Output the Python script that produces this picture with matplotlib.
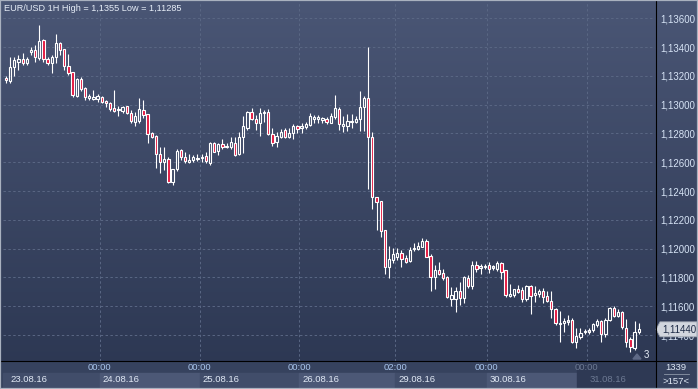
import numpy as np
import matplotlib.pyplot as plt
import matplotlib.transforms as mtransforms
from matplotlib.colors import LinearSegmentedColormap
from matplotlib.patches import Rectangle, Polygon

plt.rcParams['font.family'] = ['Liberation Sans', 'DejaVu Sans']

# hourly EUR/USD candles
opens = [1.13188, 1.13167, 1.13264, 1.13299, 1.13315, 1.13292, 1.13369, 1.13380, 1.13322, 1.13450,
         1.13318, 1.13288, 1.13329, 1.13431, 1.13387, 1.13269, 1.13227, 1.13061, 1.13179, 1.13114,
         1.13044, 1.13040, 1.13038, 1.13056, 1.13026, 1.13010, 1.12980, 1.12963, 1.12959, 1.12991,
         1.12940, 1.12880, 1.12889, 1.12963, 1.12933, 1.12801, 1.12783, 1.12658, 1.12605, 1.12625,
         1.12466, 1.12551, 1.12686, 1.12635, 1.12602, 1.12616, 1.12623, 1.12630, 1.12644, 1.12598,
         1.12737, 1.12681, 1.12727, 1.12706, 1.12704, 1.12737, 1.12658, 1.12774, 1.12836, 1.12947,
         1.12901, 1.12875, 1.12940, 1.12947, 1.12797, 1.12744, 1.12774, 1.12825, 1.12774, 1.12801,
         1.12852, 1.12841, 1.12848, 1.12859, 1.12903, 1.12903, 1.12894, 1.12903, 1.12875, 1.12917,
         1.12973, 1.12855, 1.12855, 1.12880, 1.12882, 1.12903, 1.12987, 1.13044, 1.12774, 1.12357,
         1.12329, 1.12130, 1.11875, 1.11922, 1.11940, 1.11968, 1.11933, 1.11915, 1.11996, 1.12000,
         1.12014, 1.12054, 1.11952, 1.11806, 1.11852, 1.11829, 1.11806, 1.11649, 1.11649, 1.11706,
         1.11656, 1.11799, 1.11741, 1.11887, 1.11869, 1.11873, 1.11887, 1.11869, 1.11862, 1.11901,
         1.11850, 1.11674, 1.11679, 1.11718, 1.11710, 1.11650, 1.11741, 1.11678, 1.11685, 1.11708,
         1.11674, 1.11637, 1.11581, 1.11475, 1.11482, 1.11494, 1.11505, 1.11350, 1.11389, 1.11422,
         1.11424, 1.11435, 1.11470, 1.11498, 1.11405, 1.11505, 1.11590, 1.11535, 1.11563, 1.11447,
         1.11371, 1.11308, 1.11424]
highs = [1.13200, 1.13334, 1.13329, 1.13345, 1.13362, 1.13329, 1.13403, 1.13415, 1.13550, 1.13454,
         1.13334, 1.13345, 1.13491, 1.13438, 1.13387, 1.13352, 1.13230, 1.13183, 1.13190, 1.13121,
         1.13072, 1.13102, 1.13072, 1.13058, 1.13033, 1.13017, 1.13102, 1.12991, 1.12991, 1.12991,
         1.12963, 1.12952, 1.13044, 1.13033, 1.12933, 1.12813, 1.12790, 1.12709, 1.12709, 1.12639,
         1.12551, 1.12690, 1.12690, 1.12674, 1.12656, 1.12651, 1.12658, 1.12658, 1.12674, 1.12744,
         1.12744, 1.12732, 1.12760, 1.12732, 1.12774, 1.12774, 1.12811, 1.12922, 1.12956, 1.12975,
         1.12929, 1.12975, 1.12963, 1.12970, 1.12836, 1.12813, 1.12829, 1.12836, 1.12836, 1.12866,
         1.12859, 1.12875, 1.12877, 1.12940, 1.12929, 1.12929, 1.12917, 1.12917, 1.12940, 1.13068,
         1.12987, 1.12922, 1.12936, 1.12936, 1.12922, 1.13098, 1.13061, 1.13399, 1.12811, 1.12362,
         1.12329, 1.12130, 1.12019, 1.12003, 1.12003, 1.11991, 1.11956, 1.12014, 1.12037, 1.12049,
         1.12072, 1.12065, 1.11963, 1.11885, 1.11908, 1.11857, 1.11810, 1.11732, 1.11732, 1.11771,
         1.11810, 1.11818, 1.11917, 1.11915, 1.11894, 1.11894, 1.11910, 1.11887, 1.11917, 1.11908,
         1.11852, 1.11755, 1.11722, 1.11748, 1.11732, 1.11745, 1.11745, 1.11741, 1.11718, 1.11725,
         1.11706, 1.11706, 1.11586, 1.11570, 1.11521, 1.11540, 1.11516, 1.11452, 1.11447, 1.11440,
         1.11447, 1.11482, 1.11512, 1.11505, 1.11516, 1.11597, 1.11600, 1.11580, 1.11568, 1.11510,
         1.11389, 1.11500, 1.11482]
lows = [1.13153, 1.13149, 1.13200, 1.13241, 1.13276, 1.13276, 1.13345, 1.13299, 1.13311, 1.13299,
        1.13276, 1.13218, 1.13288, 1.13345, 1.13241, 1.13206, 1.13056, 1.13051, 1.13098, 1.13033,
        1.13033, 1.13033, 1.13021, 1.13010, 1.12987, 1.12956, 1.12952, 1.12922, 1.12940, 1.12933,
        1.12875, 1.12852, 1.12871, 1.12906, 1.12737, 1.12767, 1.12558, 1.12524, 1.12547, 1.12454,
        1.12443, 1.12542, 1.12616, 1.12593, 1.12593, 1.12605, 1.12612, 1.12605, 1.12593, 1.12581,
        1.12672, 1.12651, 1.12690, 1.12702, 1.12695, 1.12644, 1.12651, 1.12662, 1.12825, 1.12894,
        1.12825, 1.12783, 1.12882, 1.12790, 1.12716, 1.12709, 1.12767, 1.12767, 1.12767, 1.12760,
        1.12801, 1.12806, 1.12829, 1.12852, 1.12875, 1.12875, 1.12875, 1.12866, 1.12871, 1.12899,
        1.12825, 1.12813, 1.12818, 1.12836, 1.12871, 1.12820, 1.12820, 1.12412, 1.12274, 1.12130,
        1.12079, 1.11825, 1.11799, 1.11899, 1.11922, 1.11875, 1.11899, 1.11908, 1.11987, 1.11991,
        1.12010, 1.11940, 1.11709, 1.11723, 1.11815, 1.11783, 1.11660, 1.11602, 1.11563, 1.11609,
        1.11621, 1.11725, 1.11718, 1.11841, 1.11825, 1.11857, 1.11829, 1.11852, 1.11848, 1.11792,
        1.11667, 1.11667, 1.11667, 1.11690, 1.11632, 1.11640, 1.11544, 1.11632, 1.11662, 1.11621,
        1.11628, 1.11516, 1.11470, 1.11350, 1.11419, 1.11470, 1.11343, 1.11313, 1.11373, 1.11405,
        1.11410, 1.11419, 1.11459, 1.11350, 1.11389, 1.11495, 1.11528, 1.11525, 1.11440, 1.11315,
        1.11285, 1.11296, 1.11405]
closes = [1.13169, 1.13260, 1.13311, 1.13315, 1.13288, 1.13315, 1.13380, 1.13329, 1.13440, 1.13315,
          1.13288, 1.13329, 1.13431, 1.13380, 1.13271, 1.13223, 1.13065, 1.13179, 1.13107, 1.13056,
          1.13061, 1.13056, 1.13058, 1.13021, 1.13010, 1.12973, 1.12959, 1.12973, 1.12987, 1.12940,
          1.12885, 1.12922, 1.12968, 1.12929, 1.12794, 1.12774, 1.12658, 1.12605, 1.12621, 1.12466,
          1.12551, 1.12679, 1.12635, 1.12612, 1.12616, 1.12635, 1.12632, 1.12639, 1.12607, 1.12732,
          1.12674, 1.12725, 1.12704, 1.12713, 1.12739, 1.12651, 1.12778, 1.12852, 1.12950, 1.12899,
          1.12871, 1.12940, 1.12950, 1.12797, 1.12737, 1.12783, 1.12813, 1.12778, 1.12801, 1.12852,
          1.12834, 1.12848, 1.12866, 1.12924, 1.12917, 1.12913, 1.12906, 1.12878, 1.12924, 1.12980,
          1.12866, 1.12866, 1.12889, 1.12889, 1.12903, 1.12982, 1.13044, 1.12774, 1.12357, 1.12327,
          1.12125, 1.11875, 1.11926, 1.11963, 1.11968, 1.11931, 1.11910, 1.11991, 1.12003, 1.12019,
          1.12056, 1.11945, 1.11806, 1.11852, 1.11825, 1.11799, 1.11667, 1.11679, 1.11706, 1.11656,
          1.11801, 1.11741, 1.11887, 1.11857, 1.11875, 1.11880, 1.11862, 1.11875, 1.11899, 1.11841,
          1.11679, 1.11683, 1.11718, 1.11702, 1.11652, 1.11738, 1.11674, 1.11690, 1.11708, 1.11667,
          1.11637, 1.11581, 1.11482, 1.11482, 1.11498, 1.11500, 1.11350, 1.11394, 1.11412, 1.11428,
          1.11430, 1.11475, 1.11498, 1.11405, 1.11505, 1.11586, 1.11535, 1.11558, 1.11459, 1.11354,
          1.11315, 1.11421, 1.11440]

days = ['23.08.16', '24.08.16', '25.08.16', '26.08.16', '29.08.16', '30.08.16', '31.08.16']
first_hour = [1, 0, 0, 0, 2, 0, 0]
bars_per_day = [23, 24, 24, 23, 22, 24, 13]
price_ticks = [1.114, 1.116, 1.118, 1.120, 1.122, 1.124, 1.126, 1.128, 1.130, 1.132, 1.134, 1.136]

title = 'EUR/USD 1H High = 1,1355 Low = 1,11285'
bar_total = '1339'
bar_visible = '>157<'
scroll_mark = '3'

W, H = 698, 389
fig = plt.figure(figsize=(W / 100, H / 100), dpi=100)

def fx(px):
    return px / W

def fy(py):
    return 1 - py / H

# background gradient
bg = fig.add_axes([0, 0, 1, 1], zorder=-5)
cmap = LinearSegmentedColormap.from_list('bg', ['#2b3651', '#4a5675'])
bg.imshow(np.linspace(0, 1, 256)[:, None], aspect='auto', cmap=cmap,
          extent=[0, 1, 0, 1], origin='lower')
bg.axis('off')

# time band under the plot (drawn below the main axes)
fig.patches.append(Rectangle((0, 0), 1, fy(361), transform=fig.transFigure,
                             color='#36425e', zorder=-1))

ax = fig.add_axes([fx(3), fy(361), 652 / W, 358 / H])
ax.set_zorder(1)
ax.patch.set_visible(False)
for s in ax.spines.values():
    s.set_visible(False)

step = 4.163  # pixels per bar
x = np.arange(len(opens))
ax.set_xlim(-3 / step, -3 / step + 652 / step)
ax.set_ylim(1.11220, 1.13706)

o = np.array(opens)
c = np.array(closes)
top = np.maximum(o, c)
bot = np.minimum(o, c)
face = [(0, 0, 0, 0) if cc >= oo else '#e3173f' for oo, cc in zip(o, c)]

ax.vlines(x, top, highs, color='white', lw=0.8, zorder=3)
ax.vlines(x, lows, bot, color='white', lw=0.8, zorder=3)
ax.bar(x, np.maximum(top - bot, 0.00008), width=0.55, bottom=bot, color=face,
       edgecolor='white', linewidth=0.8, zorder=4)

# grid
starts = np.cumsum([0] + bars_per_day[:-1])
grid_kw = dict(color='#5a6784', lw=0.7, linestyle=(0, (2.5, 2.5)), zorder=1)
for p in price_ticks:
    ax.axhline(p, **grid_kw)
for s in starts[1:]:
    ax.axvline(s - 0.5, **grid_kw)

ax.set_xticks([])
ax.yaxis.tick_right()
ax.set_yticks(price_ticks)
ax.set_yticklabels([f'{p:.5f}'.replace('.', ',') for p in price_ticks])
ax.tick_params(axis='y', length=0, pad=3.6, labelsize=7, labelcolor='#d6e3f5')

# day boxes and labels
band = mtransforms.blended_transform_factory(ax.transData, fig.transFigure)
x0, x1 = ax.get_xlim()
edges = [x0] + [s - 0.5 for s in starts[1:]] + [x1]
for k in range(len(days)):
    shade = '#414d6a' if k % 2 == 0 else '#4c5876'
    ax.add_patch(Rectangle((edges[k], fy(388)), edges[k + 1] - edges[k], fy(373) - fy(388),
                           transform=band, color=shade, clip_on=False, zorder=1))
# shaded current-day region
ax.add_patch(Rectangle((fx(577), fy(388)), fx(655) - fx(577), fy(361.5) - fy(388),
                       transform=fig.transFigure, color='#2e3954', clip_on=False, zorder=1.5))

for k in range(len(days)):
    last_day = k == len(days) - 1
    tcol = '#6d7993' if last_day else '#a9c5ec'
    dcol = '#6d7993' if last_day else '#e2eaf6'
    if k > 0:
        ax.text(edges[k], fy(368), f'{first_hour[k]:02d}:00', transform=band, ha='center',
                va='center', fontsize=6.8, color=tcol, clip_on=False, zorder=5)
        dx = edges[k] + 3 / step
    else:
        dx = x0 + 7 / step
    ax.text(dx, fy(380), days[k], transform=band, ha='left', va='center',
            fontsize=6.8, color=dcol, clip_on=False, zorder=5)

# current price marker
last = closes[-1]
ytf = ax.get_yaxis_transform()
half = 7.5 * (1.13706 - 1.11220) / 358
px2ax = 1 / 652
marker = Polygon([(1 + 1 * px2ax, last), (1 + 5 * px2ax, last + half), (1 + 42 * px2ax, last + half),
                  (1 + 42 * px2ax, last - half), (1 + 5 * px2ax, last - half)],
                 closed=True, transform=ytf, facecolor='#d2d6de', edgecolor='#9aa1ad',
                 lw=0.6, clip_on=False, zorder=10)
ax.add_patch(marker)
ax.text(1 + 7 * px2ax, last, f'{last:.5f}'.replace('.', ','), transform=ytf, ha='left',
        va='center', fontsize=7, color='#1d2a45', clip_on=False, zorder=11)

# frame lines
fig.add_artist(plt.Line2D([fx(655.5), fx(655.5)], [0, 1], color='black', lw=0.8, zorder=5))
fig.add_artist(plt.Line2D([0, 1], [fy(361), fy(361)], color='black', lw=0.8, zorder=5))
fig.patches.append(Rectangle((0, 0), 1, 1, transform=fig.transFigure, fill=False,
                             edgecolor='#a9b1bf', lw=1.6, zorder=20))

# texts
fig.text(fx(4), fy(8.5), title, fontsize=6.6, color='#e6edf7', ha='left', va='center')
fig.text(fx(676), fy(367.5), bar_total, fontsize=6.8, color='#dfe8f5', ha='center', va='center')
fig.add_artist(plt.Line2D([fx(664), fx(689)], [fy(374), fy(374)], color='#8c96a8', lw=0.6))
fig.text(fx(676), fy(381), bar_visible, fontsize=6.8, color='#dfe8f5', ha='center', va='center')
fig.text(fx(646.5), fy(354.5), scroll_mark, fontsize=7, color='#e6edf7', ha='center', va='center')
fig.patches.append(Polygon([(fx(633), fy(359)), (fx(641), fy(359)), (fx(637), fy(354))],
                           closed=True, transform=fig.transFigure, color='#5f6a86', zorder=2))

fig.savefig('out.png', dpi=100)
